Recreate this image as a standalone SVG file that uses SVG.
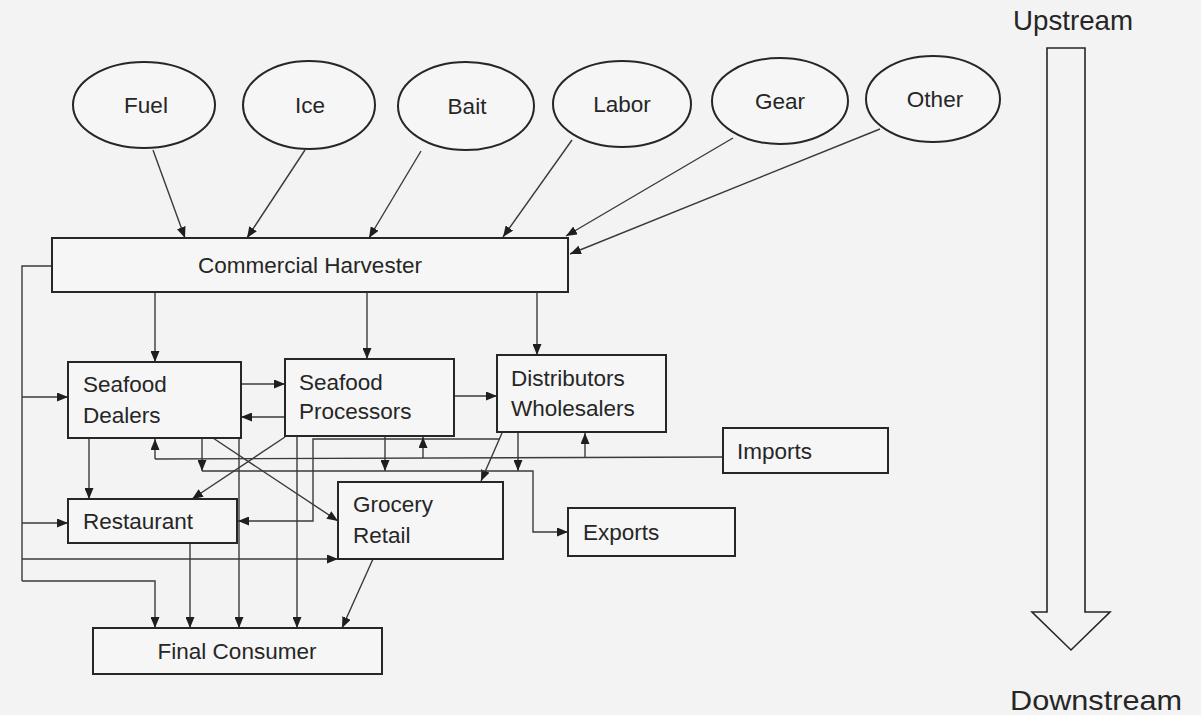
<svg xmlns="http://www.w3.org/2000/svg" width="1201" height="715" viewBox="0 0 1201 715">
<defs>
<marker id="ah" markerWidth="11" markerHeight="9" refX="11" refY="4.5" orient="auto" markerUnits="userSpaceOnUse">
<path d="M0,0 L11,4.5 L0,9 Z" fill="#1e1e1e"/>
</marker>
<style>
text{font-family:"Liberation Sans",Arial,sans-serif;font-size:22.5px;fill:#262626}
.n{fill:#f6f6f6;stroke:#262626;stroke-width:2}
.c{fill:none;stroke:#3a3a3a;stroke-width:1.4}
.a{marker-end:url(#ah)}
.big{font-size:28px}
</style>
</defs>
<rect width="1201" height="715" fill="#f3f3f3"/>

<g id="connectors">
<line class="c a" x1="153" y1="150" x2="185" y2="238"/>
<line class="c a" x1="305" y1="150" x2="247" y2="238"/>
<line class="c a" x1="421" y1="151" x2="369" y2="238"/>
<line class="c a" x1="572" y1="140" x2="503" y2="237"/>
<line class="c a" x1="733" y1="138" x2="566" y2="236"/>
<line class="c a" x1="880" y1="129" x2="570" y2="254"/>
<line class="c a" x1="155" y1="292" x2="155" y2="362"/>
<line class="c a" x1="367" y1="292" x2="367" y2="359"/>
<line class="c a" x1="537" y1="292" x2="537" y2="355"/>
<line class="c a" x1="241" y1="384" x2="285" y2="384"/>
<line class="c a" x1="285" y1="417" x2="241" y2="417"/>
<line class="c a" x1="454" y1="396" x2="497" y2="396"/>
<polyline class="c" points="52,266 22,266 22,581"/>
<line class="c a" x1="22" y1="397" x2="68" y2="397"/>
<line class="c a" x1="22" y1="523" x2="68" y2="523"/>
<line class="c a" x1="22" y1="559" x2="338" y2="559"/>
<polyline class="c a" points="22,581 155,581 155,628"/>
<line class="c a" x1="89" y1="438" x2="89" y2="499"/>
<line class="c a" x1="213" y1="438" x2="338" y2="521"/>
<line class="c a" x1="285" y1="437" x2="192" y2="499"/>
<line class="c a" x1="239" y1="438" x2="239" y2="628"/>
<line class="c a" x1="297" y1="436" x2="297" y2="628"/>
<line class="c a" x1="190" y1="543" x2="190" y2="628"/>
<line class="c a" x1="373" y1="559" x2="342" y2="628"/>
<polyline class="c a" points="500,439 313,439 313,521 238,521"/>
<line class="c a" x1="502" y1="433" x2="481" y2="481"/>
<line class="c" x1="723" y1="457" x2="155" y2="459"/>
<line class="c a" x1="155" y1="459" x2="155" y2="439"/>
<line class="c a" x1="423" y1="458" x2="423" y2="437"/>
<line class="c a" x1="585" y1="457" x2="585" y2="433"/>
<line class="c a" x1="202" y1="438" x2="202" y2="471"/>
<line class="c a" x1="385" y1="436" x2="385" y2="471"/>
<line class="c a" x1="518" y1="432" x2="518" y2="471"/>
<polyline class="c a" points="202,471 533,471 533,532 568,532"/>
</g>

<g id="fuel"><ellipse class="n" cx="144" cy="105" rx="71" ry="43"/><text x="146" y="113" text-anchor="middle">Fuel</text></g>
<g id="ice"><ellipse class="n" cx="309" cy="105" rx="66" ry="44"/><text x="310" y="113" text-anchor="middle">Ice</text></g>
<g id="bait"><ellipse class="n" cx="466" cy="106" rx="68" ry="44"/><text x="467" y="114" text-anchor="middle">Bait</text></g>
<g id="labor"><ellipse class="n" cx="622" cy="104" rx="69" ry="43"/><text x="622" y="112" text-anchor="middle">Labor</text></g>
<g id="gear"><ellipse class="n" cx="780" cy="101" rx="68" ry="43"/><text x="780" y="109" text-anchor="middle">Gear</text></g>
<g id="other"><ellipse class="n" cx="933" cy="99" rx="67" ry="43"/><text x="935" y="107" text-anchor="middle">Other</text></g>

<g id="harvester"><rect class="n" x="52" y="238" width="516" height="54"/><text x="310" y="273" text-anchor="middle">Commercial Harvester</text></g>
<g id="dealers"><rect class="n" x="68" y="362" width="173" height="76"/><text x="83" y="392">Seafood</text><text x="83" y="423">Dealers</text></g>
<g id="processors"><rect class="n" x="285" y="359" width="169" height="77"/><text x="299" y="390">Seafood</text><text x="299" y="419">Processors</text></g>
<g id="distributors"><rect class="n" x="497" y="355" width="169" height="77"/><text x="511" y="386">Distributors</text><text x="511" y="416">Wholesalers</text></g>
<g id="imports"><rect class="n" x="723" y="428" width="165" height="45"/><text x="737" y="459">Imports</text></g>
<g id="restaurant"><rect class="n" x="68" y="499" width="169" height="44"/><text x="83" y="529">Restaurant</text></g>
<g id="grocery"><rect class="n" x="338" y="482" width="165" height="77"/><text x="353" y="512">Grocery</text><text x="353" y="543">Retail</text></g>
<g id="exports"><rect class="n" x="568" y="508" width="167" height="48"/><text x="583" y="540">Exports</text></g>
<g id="consumer"><rect class="n" x="93" y="628" width="289" height="46"/><text x="237" y="659" text-anchor="middle">Final Consumer</text></g>

<g id="direction">
<text class="big" x="1013" y="30" textLength="120" lengthAdjust="spacingAndGlyphs">Upstream</text>
<path d="M1047,48 L1085,48 L1085,612 L1110,612 L1071,650 L1032,612 L1047,612 Z" fill="none" stroke="#262626" stroke-width="1.6"/>
<text class="big" x="1010" y="710" textLength="172" lengthAdjust="spacingAndGlyphs">Downstream</text>
</g>
</svg>
